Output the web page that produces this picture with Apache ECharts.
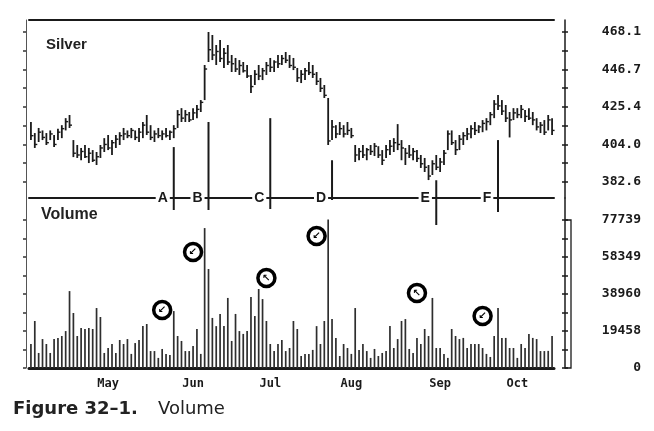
<!DOCTYPE html>
<html><head><meta charset="utf-8">
<script src="https://cdn.jsdelivr.net/npm/echarts@6/dist/echarts.min.js"></script>
<style>html,body{margin:0;padding:0;background:#fff}#c{width:654px;height:431px}</style>
</head><body><div id="c"></div><script>
// ---------------- data ----------------
const days = Array.from({length: 136}, (_, i) => 'd' + i);
const monthLabels = ['May', 'Jun', 'Jul', 'Aug', 'Sep', 'Oct'];
const monthStart = [20, 42, 62, 83, 106, 126];

const priceHigh = [416.8,410.5,413.4,412.0,410.5,412.0,409.4,413.0,415.0,419.0,420.8,406.5,403.7,402.0,403.7,402.0,400.8,399.7,403.7,407.6,
409.4,406.5,409.4,411.0,413.4,412.0,413.4,412.0,413.4,416.8,420.8,415.0,412.0,413.4,412.0,413.4,412.0,415.0,423.6,424.7,
423.6,422.5,424.7,426.5,429.3,449.3,468.1,466.4,460.7,463.5,459.0,460.7,455.0,453.3,452.1,451.0,449.3,443.6,446.4,449.3,
447.6,451.0,453.3,452.0,455.0,455.0,456.7,455.0,453.3,447.6,446.4,447.6,451.0,449.3,445.3,441.9,437.9,430.5,417.9,415.0,
416.8,415.0,416.8,413.4,403.7,402.0,403.7,402.0,403.7,404.8,403.0,400.8,403.7,406.5,407.6,415.6,406.5,402.0,403.7,402.0,
400.8,398.0,396.3,392.3,395.0,398.0,396.3,400.8,412.0,412.0,406.5,409.4,411.0,413.4,415.0,416.8,415.0,417.9,419.0,422.5,
429.3,432.2,429.3,426.5,422.5,424.7,424.7,426.5,423.6,424.7,422.5,419.0,416.8,417.9,420.8,419.0];
const priceLow = [406.5,402.0,405.4,406.5,403.7,406.5,402.5,406.5,407.6,412.0,413.4,396.8,396.3,395.0,396.3,393.4,394.0,392.3,396.3,399.7,
400.8,398.0,402.0,403.7,406.5,407.6,407.6,406.5,405.4,407.6,409.4,406.5,405.4,407.6,406.5,408.0,406.5,407.6,413.4,416.8,
416.8,416.8,417.9,419.0,422.5,429.3,451.0,452.1,449.3,451.0,447.6,449.3,445.3,445.3,443.6,445.0,441.9,433.3,437.9,440.7,
440.7,443.6,445.3,445.3,447.6,449.3,450.4,447.6,446.4,439.6,439.0,440.7,443.6,441.9,437.9,433.9,430.5,403.7,406.5,407.6,
409.4,408.0,409.4,407.6,394.0,395.0,396.3,395.0,398.0,397.4,396.3,392.3,396.3,398.0,399.7,400.8,395.0,392.3,396.3,395.0,
394.0,390.6,388.3,383.7,386.6,389.4,388.3,392.3,400.8,403.7,398.0,400.8,403.7,406.5,407.6,409.4,410.5,411.0,412.0,415.0,
419.0,423.6,420.8,416.8,408.0,417.9,419.0,419.0,416.8,417.9,415.0,412.0,410.5,409.4,412.0,409.4];
const priceClose = [409,404,411,408,405,410,404,411,413,417,415,399,398,400,397,399,395,397,402,404,
402,405,407,409,410,409,412,408,411,415,411,408,410,409,410,409,411,413,421,419,
421,418,422,424,428,447,458,455,457,453,456,451,450,447,449,446,443,437,444,443,
446,449,448,451,450,453,452,449,448,442,444,446,445,444,440,436,432,406,414,410,
413,410,412,409,398,400,398,401,400,403,398,395,401,403,405,404,402,399,398,400,
396,393,391,386,393,391,394,399,410,405,401,407,409,410,413,412,414,416,417,421,
427,426,423,419,418,422,421,424,420,419,418,414,415,411,418,412];

const volume = [12600,24700,7900,15200,12600,7900,15200,15800,16800,19400,40400,28900,16800,21000,20500,21000,20500,31500,26800,7900,
10500,12600,7900,14700,12600,15200,7400,13100,14700,22000,23100,8900,8900,5300,10000,7400,6800,29900,16800,14200,
8900,8900,11600,20500,7400,73500,52000,26300,22000,28400,22000,36800,14200,28400,19400,17900,19400,37300,27300,41500,
36200,24700,12600,8900,12600,14700,8900,10500,24700,20500,6300,7400,7400,9500,22000,12600,24700,78000,25700,15800,
6300,12600,10500,7400,31500,9500,12600,8900,5300,10000,6300,7900,8900,22000,10500,15200,24700,25700,10000,7900,
15800,12600,20500,16800,36800,10500,10500,7400,5300,20500,16800,15200,15800,10500,12600,12600,12600,10500,7400,5800,
16800,31500,15800,15800,10500,10500,5300,12600,10500,17900,15800,15200,8900,8900,9000,16800];

const priceTickLabels = ['382.6', '404.0', '425.4', '446.7', '468.1'];
const volumeTickLabels = ['0', '19458', '38960', '58349', '77739'];

const eventLabels = ['A', 'B', 'C', 'D', 'E', 'F'];
const eventDay = [37, 46, 62, 78, 105, 121];
const eventTop = [402.5, 416.8, 419.0, 395.0, 383.6, 406.5];

const calloutDay = [34, 42, 61, 74, 100, 117];
const calloutVolume = [30470, 60935, 47277, 69340, 39400, 27316];
const calloutArrow = ['\u2199', '\u2199', '\u2196', '\u2199', '\u2196', '\u2199'];

// ---------------- style / layout ----------------
const eventDropPx = [12, 12, 11, 2, 27, 14];
const ink = '#1a1a1a';
const monoFont = '"DejaVu Sans Mono"';

const priceTickVals = priceTickLabels.map(Number);
const volumeTickVals = volumeTickLabels.map(Number);
function withMid(vals) {
  const out = [];
  vals.forEach((v, i) => { out.push(v); if (i < vals.length - 1) out.push((v + vals[i + 1]) / 2); });
  return out;
}
const priceTickAll = withMid(priceTickVals);
const volumeTickAll = withMid(volumeTickVals);

const chart = echarts.init(document.getElementById('c'), null, {renderer: 'canvas'});

function rightAxis(grid, min, max, ticks, labelVals, labels) {
  return {
    type: 'value', gridIndex: grid, position: 'right', offset: 11, min: min, max: max,
    splitLine: {show: false},
    axisLine: {show: true, lineStyle: {color: ink, width: 1.5}},
    axisTick: {show: true, customValues: ticks, length: 3, lineStyle: {color: ink, width: 1.5}},
    axisLabel: {show: true, customValues: labelVals, align: 'right', margin: 76,
      formatter: v => { const k = labelVals.findIndex(x => Math.abs(x - v) < 1e-6); return k >= 0 ? labels[k] : ''; },
      fontFamily: monoFont, fontWeight: 'bold', fontSize: 13, color: ink}
  };
}
function innerAxis(grid, min, max, ticks) {
  return {
    type: 'value', gridIndex: grid, position: 'right', offset: 11, min: min, max: max,
    splitLine: {show: false}, axisLine: {show: false}, axisLabel: {show: false},
    axisTick: {show: true, inside: true, customValues: ticks, length: 3, lineStyle: {color: ink, width: 1.5}}
  };
}
function leftAxis(grid, min, max, ticks) {
  return {
    type: 'value', gridIndex: grid, position: 'left', offset: 3, min: min, max: max,
    splitLine: {show: false}, axisLabel: {show: false},
    axisLine: {show: true, lineStyle: {color: '#555', width: 1}},
    axisTick: {show: true, customValues: ticks, length: 3, lineStyle: {color: '#333', width: 1.5}}
  };
}

const pMin = 373.48, pMax = 474.94, vMin = 0, vMax = 89300;

const option = {
  animation: false,
  backgroundColor: '#fff',
  title: [
    {text: 'Silver', left: 46, top: 37, padding: 0,
      textStyle: {fontFamily: '"Liberation Sans"', fontWeight: 'bold', fontSize: 15, color: '#222'}},
    {text: 'Volume', left: 41, top: 207, padding: 0,
      textStyle: {fontFamily: '"Liberation Sans"', fontWeight: 'bold', fontSize: 16, color: '#222'}}
  ],
  grid: [
    {left: 29, width: 525, top: 20, height: 178},
    {left: 29, width: 525, top: 198, height: 170}
  ],
  xAxis: [
    {type: 'category', gridIndex: 0, data: days, position: 'bottom',
      axisLine: {show: true, lineStyle: {color: ink, width: 2}}, axisTick: {show: false}, axisLabel: {show: false}},
    {type: 'category', gridIndex: 0, data: days, position: 'top',
      axisLine: {show: true, lineStyle: {color: ink, width: 2}}, axisTick: {show: false}, axisLabel: {show: false}},
    {type: 'category', gridIndex: 1, data: days, position: 'bottom',
      axisLine: {show: true, lineStyle: {color: ink, width: 3}}, axisTick: {show: false},
      axisLabel: {show: true, interval: 0, margin: 10,
        formatter: (v, idx) => { const k = monthStart.indexOf(idx); return k >= 0 ? monthLabels[k] : ''; },
        fontFamily: monoFont, fontWeight: 'bold', fontSize: 12, color: ink}}
  ],
  yAxis: [
    rightAxis(0, pMin, pMax, priceTickAll, priceTickVals, priceTickLabels),
    innerAxis(0, pMin, pMax, priceTickAll),
    leftAxis(0, pMin, pMax, priceTickAll),
    rightAxis(1, vMin, vMax, volumeTickAll, volumeTickVals, volumeTickLabels),
    innerAxis(1, vMin, vMax, volumeTickAll),
    leftAxis(1, vMin, vMax, volumeTickAll)
  ],
  series: [
    {
      type: 'custom', name: 'Silver', xAxisIndex: 0, yAxisIndex: 0,
      data: days.map((d, i) => [i, priceHigh[i], priceLow[i], priceClose[i]]),
      encode: {x: 0, y: [1, 2, 3]},
      renderItem: (params, api) => {
        const x = api.value(0);
        const pH = api.coord([x, api.value(1)]);
        const pL = api.coord([x, api.value(2)]);
        const pC = api.coord([x, api.value(3)]);
        return {type: 'group', children: [
          {type: 'line', shape: {x1: pH[0], y1: pH[1], x2: pL[0], y2: pL[1]}, style: {stroke: ink, lineWidth: 1.8}},
          {type: 'line', shape: {x1: pC[0], y1: pC[1], x2: pC[0] + 2.5, y2: pC[1]}, style: {stroke: ink, lineWidth: 1.4}}
        ]};
      }
    },
    {
      type: 'custom', name: 'events', xAxisIndex: 0, yAxisIndex: 0, clip: false, z: 5,
      data: eventDay.map((d, i) => [d, eventTop[i]]),
      encode: {x: 0, y: 1},
      renderItem: (params, api) => {
        const i = params.dataIndex;
        const top = api.coord([api.value(0), api.value(1)]);
        const base = api.coord([api.value(0), pMin]);
        return {type: 'group', children: [
          {type: 'line', shape: {x1: top[0], y1: top[1], x2: top[0], y2: base[1] + eventDropPx[i]},
            style: {stroke: ink, lineWidth: 2}},
          {type: 'text', x: top[0] - 11, y: base[1], z2: 10,
            style: {text: eventLabels[i], fill: ink, font: 'bold 14px "Liberation Sans"',
              align: 'center', verticalAlign: 'middle', backgroundColor: '#fff', padding: [1, 2]}}
        ]};
      }
    },
    {
      type: 'bar', name: 'Volume', xAxisIndex: 2, yAxisIndex: 3, data: volume,
      barWidth: 1.7, itemStyle: {color: '#2e2e2e'}
    },
    {
      type: 'scatter', name: 'callouts', xAxisIndex: 2, yAxisIndex: 3, z: 6,
      data: calloutDay.map((d, i) => [d, calloutVolume[i]]),
      symbol: 'circle', symbolSize: 17,
      itemStyle: {color: '#fff', borderColor: '#000', borderWidth: 3.5, opacity: 1},
      label: {show: true, position: 'inside', formatter: p => calloutArrow[p.dataIndex],
        fontSize: 10, fontWeight: 'bold', color: '#000', fontFamily: '"DejaVu Sans"'}
    }
  ]
};
chart.setOption(option);

// bracket beside the volume scale, placed from the axis scale
const yTop = chart.convertToPixel({yAxisIndex: 3}, volumeTickVals[volumeTickVals.length - 1]);
const yBot = chart.convertToPixel({yAxisIndex: 3}, 0);
chart.setOption({graphic: [
  {type: 'text', left: 13, top: 400, style: {text: 'Figure 32\u20131.', font: 'bold 18px "DejaVu Sans"', fill: '#222'}},
  {type: 'text', left: 158, top: 400, style: {text: 'Volume', font: '18px "DejaVu Sans"', fill: '#222'}},
  {type: 'polyline', shape: {points: [[565, yTop], [571, yTop], [571, yBot], [565, yBot]]},
    style: {stroke: ink, lineWidth: 1.3, fill: null}}
]});
</script></body></html>
